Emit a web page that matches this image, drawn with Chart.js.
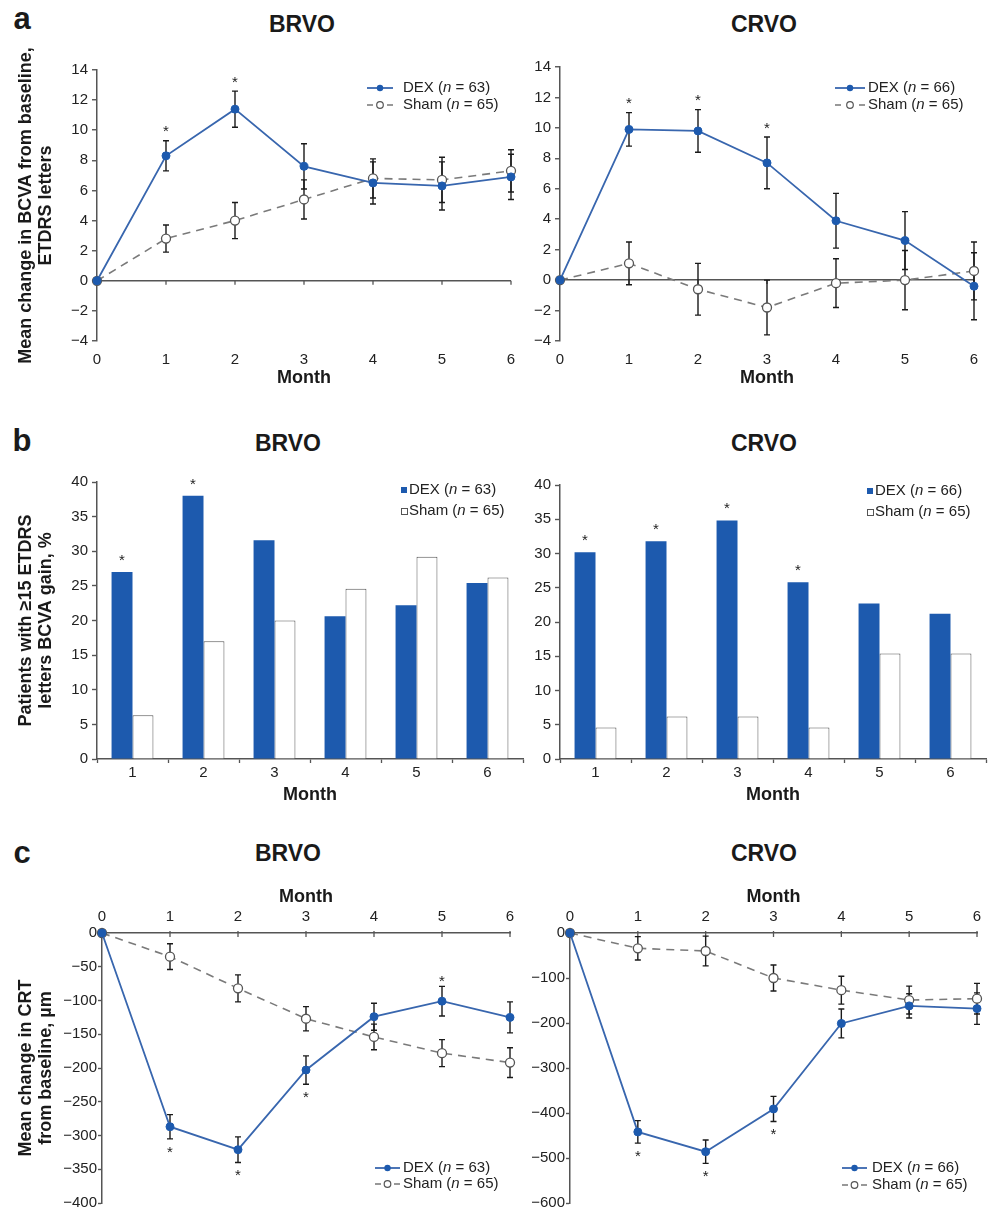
<!DOCTYPE html>
<html>
<head>
<meta charset="utf-8">
<script src="https://cdn.jsdelivr.net/npm/chart.js@4.4.0/dist/chart.umd.min.js"></script>
<style>
body { margin: 0; background: #fff; }
#pagina { position: relative; width: 992px; height: 1213px; overflow: hidden; background: #fff;
          font-family: "Liberation Sans", Arial, sans-serif; color: #1a1a1a; }
canvas { position: absolute; }
.letra { position: absolute; font-weight: bold; font-size: 31px; transform: translate(-50%, -50%); }
.titulo { position: absolute; font-weight: bold; font-size: 23px; transform: translate(-50%, -50%); }
</style>
</head>
<body>
<div id="pagina">
  <div class="letra" style="left:22px;top:19px">a</div>
  <div class="titulo" style="left:302px;top:24px">BRVO</div>
  <div class="titulo" style="left:764px;top:24px">CRVO</div>
  <canvas id="bcvaBrvo" width="530" height="360" style="left:0;top:40px"></canvas>
  <canvas id="bcvaCrvo" width="492" height="360" style="left:500px;top:40px"></canvas>

  <div class="letra" style="left:22px;top:441px">b</div>
  <div class="titulo" style="left:288px;top:443px">BRVO</div>
  <div class="titulo" style="left:764px;top:443px">CRVO</div>
  <canvas id="ganhoBrvo" width="530" height="353" style="left:0;top:460px"></canvas>
  <canvas id="ganhoCrvo" width="492" height="353" style="left:500px;top:460px"></canvas>

  <div class="letra" style="left:22px;top:853px">c</div>
  <div class="titulo" style="left:288px;top:853px">BRVO</div>
  <div class="titulo" style="left:764px;top:853px">CRVO</div>
  <canvas id="crtBrvo" width="530" height="343" style="left:0;top:870px"></canvas>
  <canvas id="crtCrvo" width="492" height="343" style="left:500px;top:870px"></canvas>
</div>

<script>
// =========================
// DADOS
// =========================

const meses = ["0", "1", "2", "3", "4", "5", "6"];
const mesesBarra = ["1", "2", "3", "4", "5", "6"];
const nomesSeries = ["DEX", "Sham"];
const nBrvo = [63, 65];
const nCrvo = [66, 65];

// a - BCVA
const dexBcvaBrvo = [0, 8.3, 11.4, 7.6, 6.5, 6.3, 6.9];
const dexBcvaBrvoErro = [0, 1.0, 1.2, 1.5, 1.4, 1.6, 1.5];
const shamBcvaBrvo = [0, 2.8, 4.0, 5.4, 6.8, 6.7, 7.3];
const shamBcvaBrvoErro = [0, 0.9, 1.2, 1.3, 1.3, 1.5, 1.4];
const estrelasBcvaBrvo = [1, 2];

const dexBcvaCrvo = [0, 9.9, 9.8, 7.7, 3.9, 2.6, -0.4];
const dexBcvaCrvoErro = [0, 1.1, 1.4, 1.7, 1.8, 1.9, 2.2];
const shamBcvaCrvo = [0, 1.1, -0.6, -1.8, -0.2, 0.0, 0.6];
const shamBcvaCrvoErro = [0, 1.4, 1.7, 1.8, 1.6, 1.95, 1.9];
const estrelasBcvaCrvo = [1, 2, 3];

// b - ganho >= 15 letras
const dexGanhoBrvo = [27.0, 38.0, 31.6, 20.6, 22.2, 25.4];
const shamGanhoBrvo = [6.3, 17.0, 20.0, 24.6, 29.2, 26.2];
const estrelasGanhoBrvo = [0, 1];

const dexGanhoCrvo = [30.2, 31.8, 34.8, 25.8, 22.7, 21.2];
const shamGanhoCrvo = [4.6, 6.2, 6.2, 4.6, 15.4, 15.4];
const estrelasGanhoCrvo = [0, 1, 2, 3];

// c - CRT
const dexCrtBrvo = [0, -287, -321, -203, -124, -101, -125];
const dexCrtBrvoErro = [0, 18, 19, 21, 20, 22, 23];
const shamCrtBrvo = [0, -35, -82, -127, -154, -178, -192];
const shamCrtBrvoErro = [0, 19, 20, 18, 19, 20, 22];
const estrelasCrtBrvoAbaixo = [1, 2, 3];
const estrelasCrtBrvoAcima = [5];

const dexCrtCrvo = [0, -442, -486, -391, -201, -162, -168];
const dexCrtCrvoErro = [0, 25, 26, 28, 32, 27, 35];
const shamCrtCrvo = [0, -34, -40, -100, -127, -149, -146];
const shamCrtCrvoErro = [0, 26, 33, 29, 31, 31, 34];
const estrelasCrtCrvoAbaixo = [1, 2, 3];

// ticks do eixo y
const ticksBcva = { min: -4, max: 14, passo: 2 };
const ticksGanho = { min: 0, max: 40, passo: 5 };
const ticksCrtBrvo = { min: -400, max: 0, passo: 50 };
const ticksCrtCrvo = { min: -600, max: 0, passo: 100 };


const FONTE = '"Liberation Sans", Arial, sans-serif';
const AZUL_LINHA = "#3866ae";
const AZUL = "#1d5aae";
const CINZA_EIXO = "#555";

Chart.defaults.font.family = FONTE;
Chart.defaults.font.size = 15;
Chart.defaults.color = "#222";


// =========================
// UTILIDADES
// =========================

function formatarTick(v) {
    return v < 0 ? "\u2212" + Math.abs(v) : String(v);
}

function desenharEstrela(ctx, x, yCentro) {
    ctx.font = "15px " + FONTE;
    ctx.fillStyle = "#222";
    ctx.textAlign = "center";
    ctx.textBaseline = "alphabetic";
    ctx.fillText("*", x, yCentro + 0.58 * 15);
}

function desenharTextoLegenda(ctx, x, y, nome, n) {
    ctx.fillStyle = "#222";
    ctx.textAlign = "left";
    ctx.textBaseline = "middle";
    ctx.font = "15px " + FONTE;
    let t = nome + " (";
    ctx.fillText(t, x, y);
    x += ctx.measureText(t).width;
    ctx.font = "italic 15px " + FONTE;
    ctx.fillText("n", x, y);
    x += ctx.measureText("n").width;
    ctx.font = "15px " + FONTE;
    ctx.fillText(" = " + n + ")", x, y);
}


// =========================
// PLUGIN: BARRAS DE ERRO, ESTRELAS, LEGENDA
// =========================

const extras = {
    id: "extras",

    beforeDatasetsDraw(chart, args, opts) {
        const ctx = chart.ctx;
        const x = chart.scales.x;
        const y = chart.scales.y;

        // tracinhos no eixo dos meses (linha zero)
        if (opts.ticksZero) {
            const y0 = y.getPixelForValue(0);
            ctx.save();
            ctx.strokeStyle = CINZA_EIXO;
            ctx.lineWidth = 1.3;
            meses.forEach((m, i) => {
                const px = x.getPixelForValue(i);
                ctx.beginPath();
                ctx.moveTo(px, y0 - (opts.ticksCruzam ? 2 : 0));
                ctx.lineTo(px, y0 + 4);
                ctx.stroke();
            });
            ctx.restore();
        }

        chart.data.datasets.forEach((ds, di) => {
            if (!ds.erros) return;
            const meta = chart.getDatasetMeta(di);
            ctx.save();
            ctx.strokeStyle = "#1a1a1a";
            ctx.lineWidth = 1.4;
            ds.data.forEach((v, i) => {
                const e = ds.erros[i];
                if (!e) return;
                const px = meta.data[i].x;
                const y1 = y.getPixelForValue(v + e);
                const y2 = y.getPixelForValue(v - e);
                ctx.beginPath();
                ctx.moveTo(px, y1); ctx.lineTo(px, y2);
                ctx.moveTo(px - 3, y1); ctx.lineTo(px + 3, y1);
                ctx.moveTo(px - 3, y2); ctx.lineTo(px + 3, y2);
                ctx.stroke();
            });
            ctx.restore();
        });
    },

    afterDatasetsDraw(chart, args, opts) {
        const ctx = chart.ctx;
        const y = chart.scales.y;
        const folga = opts.folgaEstrela || 12;

        ctx.save();
        chart.data.datasets.forEach((ds, di) => {
            const meta = chart.getDatasetMeta(di);
            (ds.estrelasAcima || []).forEach(i => {
                const el = meta.data[i];
                const topo = ds.erros ? y.getPixelForValue(ds.data[i] + ds.erros[i]) : el.y;
                desenharEstrela(ctx, el.x, topo - folga);
            });
            (ds.estrelasAbaixo || []).forEach(i => {
                const el = meta.data[i];
                const base = y.getPixelForValue(ds.data[i] - ds.erros[i]);
                desenharEstrela(ctx, el.x, base + folga);
            });
        });

        // legenda
        const lg = opts.legenda;
        if (lg) {
            nomesSeries.forEach((nome, k) => {
                const yy = lg.y + k * lg.dy;
                if (lg.tipo === "linha") {
                    const x0 = lg.sx, x1 = lg.sx + lg.comp, xm = (x0 + x1) / 2;
                    if (k === 0) {
                        ctx.strokeStyle = AZUL_LINHA;
                        ctx.lineWidth = 1.8;
                        ctx.beginPath(); ctx.moveTo(x0, yy); ctx.lineTo(x1, yy); ctx.stroke();
                        ctx.fillStyle = AZUL;
                        ctx.beginPath(); ctx.arc(xm, yy, 3.2, 0, Math.PI * 2); ctx.fill();
                    } else {
                        ctx.strokeStyle = "#777";
                        ctx.lineWidth = 1.5;
                        ctx.beginPath();
                        ctx.moveTo(x0, yy); ctx.lineTo(x0 + 6, yy);
                        ctx.moveTo(x1 - 6, yy); ctx.lineTo(x1, yy);
                        ctx.stroke();
                        ctx.fillStyle = "#fff";
                        ctx.strokeStyle = "#555";
                        ctx.lineWidth = 1.2;
                        ctx.beginPath(); ctx.arc(xm, yy, 3.3, 0, Math.PI * 2); ctx.fill(); ctx.stroke();
                    }
                } else {
                    if (k === 0) {
                        ctx.fillStyle = AZUL;
                        ctx.fillRect(lg.sx, yy - 3, 6, 6);
                    } else {
                        ctx.fillStyle = "#fff";
                        ctx.strokeStyle = "#555";
                        ctx.lineWidth = 1;
                        ctx.fillRect(lg.sx, yy - 3, 6, 6);
                        ctx.strokeRect(lg.sx + 0.5, yy - 2.5, 6, 6);
                    }
                }
                desenharTextoLegenda(ctx, lg.tx, yy, nome, lg.n[k]);
            });
        }
        ctx.restore();
    }
};


// =========================
// EIXOS
// =========================

function eixoY(ticks, largura, titulo, extra) {
    const eixo = {
        min: ticks.min,
        max: ticks.max,
        ticks: { stepSize: ticks.passo, padding: 4, autoSkip: false, callback: v => formatarTick(v), color: "#222" },
        grid: { drawOnChartArea: false, tickLength: 5, tickColor: CINZA_EIXO, tickWidth: 1.4, color: CINZA_EIXO },
        border: { color: CINZA_EIXO, width: 1.5 },
        afterFit: s => { s.width = largura; }
    };
    if (titulo) {
        eixo.title = {
            display: true,
            text: titulo,
            color: "#1a1a1a",
            font: { size: 18, weight: "bold", lineHeight: 1.1 },
            padding: { top: 16, bottom: 0 }
        };
    }
    return Object.assign(eixo, extra || {});
}

function tituloMes(pad) {
    return { display: true, text: "Month", color: "#1a1a1a", font: { size: 18, weight: "bold" }, padding: pad };
}


// =========================
// GRÁFICO DE LINHA
// =========================

function criarGraficoLinha(id, cfg) {

    new Chart(document.getElementById(id), {

        type: "line",

        data: {
            labels: meses,
            datasets: [
                {
                    label: "DEX",
                    data: cfg.dex,
                    erros: cfg.dexErro,
                    estrelasAcima: cfg.estrelasAcima || [],
                    estrelasAbaixo: cfg.estrelasAbaixo || [],
                    borderColor: AZUL_LINHA,
                    borderWidth: 1.8,
                    pointRadius: 4,
                    pointBackgroundColor: AZUL,
                    pointBorderColor: AZUL,
                    pointBorderWidth: 1,
                    tension: 0,
                    clip: false
                },
                {
                    label: "Sham",
                    data: cfg.sham,
                    erros: cfg.shamErro,
                    borderColor: "#7a7a7a",
                    borderDash: [8, 6],
                    borderWidth: 1.6,
                    pointRadius: 4.5,
                    pointBackgroundColor: "#fff",
                    pointBorderColor: "#555",
                    pointBorderWidth: 1.3,
                    tension: 0,
                    clip: false
                }
            ]
        },

        options: {
            responsive: false,
            animation: false,
            layout: { padding: cfg.padding },
            plugins: {
                legend: { display: false },
                tooltip: { enabled: false },
                extras: cfg.extras
            },
            scales: {
                x: cfg.eixoX,
                y: cfg.eixoY
            }
        },

        plugins: [extras]
    });
}


// =========================
// GRÁFICO DE BARRA
// =========================

function criarGraficoBarra(id, cfg) {

    new Chart(document.getElementById(id), {

        type: "bar",

        data: {
            labels: mesesBarra,
            datasets: [
                {
                    label: "DEX",
                    data: cfg.dex,
                    estrelasAcima: cfg.estrelas,
                    backgroundColor: AZUL,
                    borderWidth: 0,
                    categoryPercentage: 0.59,
                    barPercentage: 1.0
                },
                {
                    label: "Sham",
                    data: cfg.sham,
                    backgroundColor: "#fff",
                    borderColor: "#555",
                    borderWidth: 1,
                    categoryPercentage: 0.59,
                    barPercentage: 1.0
                }
            ]
        },

        options: {
            responsive: false,
            animation: false,
            layout: { padding: cfg.padding },
            plugins: {
                legend: { display: false },
                tooltip: { enabled: false },
                extras: cfg.extras
            },
            scales: {
                x: {
                    grid: { offset: true, drawOnChartArea: false, tickLength: 4, color: CINZA_EIXO, tickWidth: 1.3 },
                    border: { color: CINZA_EIXO, width: 1.5 },
                    ticks: { padding: 1, color: "#222" },
                    title: tituloMes({ top: 0, bottom: 7 }),
                    afterFit: s => { s.height = 54; }
                },
                y: cfg.eixoY
            }
        },

        plugins: [extras]
    });
}


// =========================
// PAINEL A
// =========================

function eixoXBcva() {
    return {
        offset: false,
        grid: { display: false },
        border: { display: false },
        ticks: { padding: 2, maxRotation: 0, color: "#222" },
        title: tituloMes({ top: 0, bottom: 11 }),
        afterFit: s => { s.height = 59; }
    };
}

const linhaZero = {
    grid: {
        drawOnChartArea: true,
        color: c => (c.tick && c.tick.value === 0 ? CINZA_EIXO : "rgba(0,0,0,0)"),
        lineWidth: 1.5,
        tickLength: 5,
        tickColor: CINZA_EIXO,
        tickWidth: 1.4
    }
};

criarGraficoLinha("bcvaBrvo", {
    dex: dexBcvaBrvo, dexErro: dexBcvaBrvoErro,
    sham: shamBcvaBrvo, shamErro: shamBcvaBrvoErro,
    estrelasAcima: estrelasBcvaBrvo,
    padding: { top: 30, right: 19, bottom: 0, left: 0 },
    eixoX: eixoXBcva(),
    eixoY: eixoY(ticksBcva, 97, ["Mean change in BCVA from baseline,", "ETDRS letters"], linhaZero),
    extras: { ticksZero: true, folgaEstrela: 13,
              legenda: { tipo: "linha", sx: 367, comp: 26, tx: 403, y: 48, dy: 17, n: nBrvo } }
});

criarGraficoLinha("bcvaCrvo", {
    dex: dexBcvaCrvo, dexErro: dexBcvaCrvoErro,
    sham: shamBcvaCrvo, shamErro: shamBcvaCrvoErro,
    estrelasAcima: estrelasBcvaCrvo,
    padding: { top: 27, right: 18, bottom: 0, left: 0 },
    eixoX: eixoXBcva(),
    eixoY: eixoY(ticksBcva, 60, null, linhaZero),
    extras: { ticksZero: true, folgaEstrela: 13,
              legenda: { tipo: "linha", sx: 335, comp: 30, tx: 368, y: 48, dy: 17, n: nCrvo } }
});


// =========================
// PAINEL B
// =========================

criarGraficoBarra("ganhoBrvo", {
    dex: dexGanhoBrvo, sham: shamGanhoBrvo, estrelas: estrelasGanhoBrvo,
    padding: { top: 22, right: 7, bottom: 0, left: 0 },
    eixoY: eixoY(ticksGanho, 97, ["Patients with \u226515 ETDRS", "letters BCVA gain, %"]),
    extras: { folgaEstrela: 16,
              legenda: { tipo: "caixa", sx: 401, tx: 409, y: 30, dy: 21, n: nBrvo } }
});

criarGraficoBarra("ganhoCrvo", {
    dex: dexGanhoCrvo, sham: shamGanhoCrvo, estrelas: estrelasGanhoCrvo,
    padding: { top: 25, right: 6, bottom: 0, left: 0 },
    eixoY: eixoY(ticksGanho, 60, null),
    extras: { folgaEstrela: 16,
              legenda: { tipo: "caixa", sx: 367, tx: 375, y: 31, dy: 21, n: nCrvo } }
});


// =========================
// PAINEL C
// =========================

function eixoXCrt() {
    return {
        position: "top",
        offset: false,
        grid: { drawOnChartArea: false, drawTicks: false, color: CINZA_EIXO },
        border: { color: CINZA_EIXO, width: 1.5 },
        ticks: { padding: 7, maxRotation: 0, color: "#222" },
        title: tituloMes({ top: 16, bottom: 0 }),
        afterFit: s => { s.height = 63; }
    };
}

function eixoYCrt(ticks, largura, titulo) {
    const e = eixoY(ticks, largura, titulo);
    e.ticks.padding = 1;
    e.grid.tickLength = 4;
    return e;
}

criarGraficoLinha("crtBrvo", {
    dex: dexCrtBrvo, dexErro: dexCrtBrvoErro,
    sham: shamCrtBrvo, shamErro: shamCrtBrvoErro,
    estrelasAcima: estrelasCrtBrvoAcima,
    estrelasAbaixo: estrelasCrtBrvoAbaixo,
    padding: { top: 0, right: 20, bottom: 6, left: 0 },
    eixoX: eixoXCrt(),
    eixoY: eixoYCrt(ticksCrtBrvo, 102, ["Mean change in CRT", "from baseline, \u00b5m"]),
    extras: { ticksZero: true, ticksCruzam: true, folgaEstrela: 9,
              legenda: { tipo: "linha", sx: 375, comp: 25, tx: 403, y: 298, dy: 16, n: nBrvo } }
});

criarGraficoLinha("crtCrvo", {
    dex: dexCrtCrvo, dexErro: dexCrtCrvoErro,
    sham: shamCrtCrvo, shamErro: shamCrtCrvoErro,
    estrelasAbaixo: estrelasCrtCrvoAbaixo,
    padding: { top: 0, right: 15, bottom: 7, left: 0 },
    eixoX: eixoXCrt(),
    eixoY: eixoYCrt(ticksCrtCrvo, 70, null),
    extras: { ticksZero: true, ticksCruzam: true, folgaEstrela: 9,
              legenda: { tipo: "linha", sx: 342, comp: 25, tx: 372, y: 298, dy: 17, n: nCrvo } }
});
</script>
</body>
</html>
